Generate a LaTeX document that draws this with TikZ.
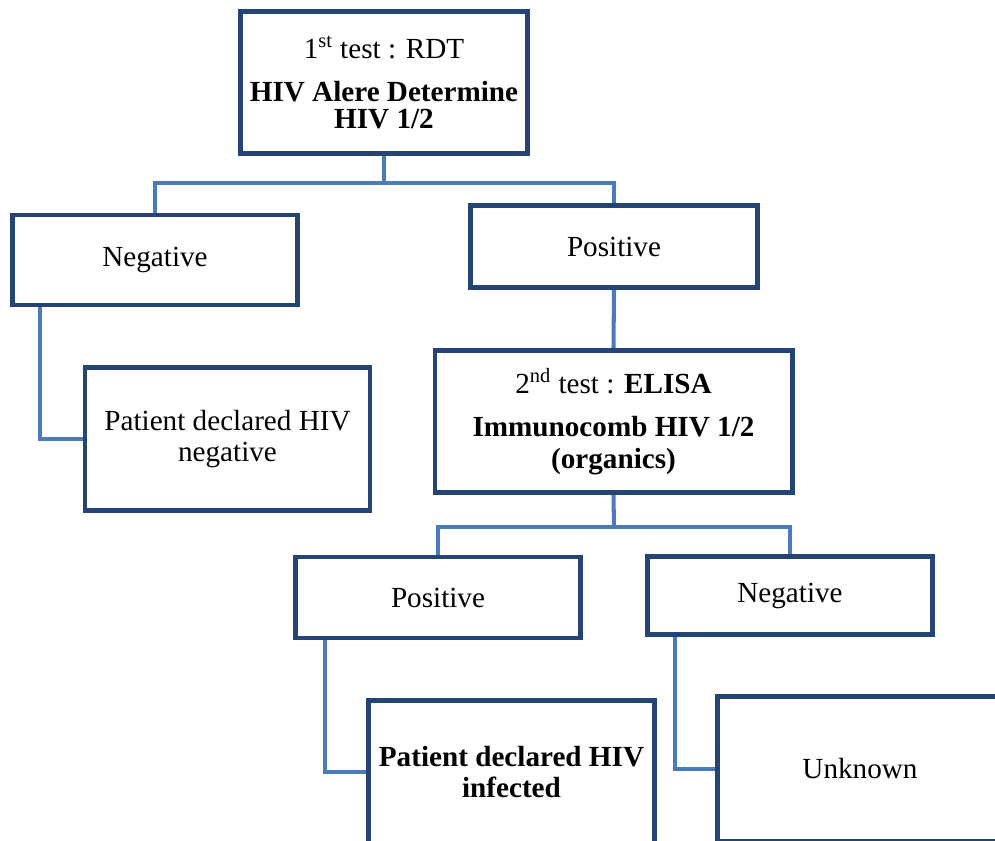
\documentclass[tikz,border=0pt]{standalone}
\usepackage{fontspec}
\setmainfont{Liberation Serif}
\usetikzlibrary{calc, positioning}

\definecolor{boxblue}{RGB}{36,68,118}
\definecolor{linkblue}{RGB}{74,124,186}

\begin{document}
\begin{tikzpicture}[x=0.02cm, y=-0.02cm,
    box/.style={draw=boxblue, line width=2.6pt, fill=white, align=center,
      inner sep=2pt, font=\fontsize{16.6}{17.5}\selectfont},
    link/.style={draw=linkblue, line width=2.3pt}]
  % page frame, lower boxes run off the edge
  \useasboundingbox (0,0) rectangle (995,840);
  \clip (0,0) rectangle (995,840);
  % first test
  \node[box, minimum width=5.75cm, minimum height=2.85cm] (test1) at (384,82.5)
    {1\textsuperscript{st} test : RDT\\[6.9pt]\textbf{HIV Alere Determine}\\[-2.2pt]\textbf{HIV 1/2}};
  \node[box, minimum width=5.7cm, minimum height=1.8cm] (neg1) at (155,260) {Negative};
  \node[box, minimum width=5.75cm, minimum height=1.65cm] (pos1) at (614,246.5) {Positive};
  \node[box, minimum width=5.7cm, minimum height=2.85cm] (declneg) at (227.5,439)
    {Patient declared HIV\\negative};
  % second test
  \node[box, minimum width=7.15cm, minimum height=2.85cm] (test2) at (613.5,421.5)
    {2\textsuperscript{nd} test : \textbf{ELISA}\\[6.9pt]\textbf{Immunocomb HIV 1/2}\\[0.6pt]\textbf{(organics)}};
  \node[box, minimum width=5.7cm, minimum height=1.62cm] (pos2) at (438,597.5) {Positive};
  \node[box, minimum width=5.7cm, minimum height=1.55cm] (neg2) at (790,595.5) {Negative};
  \node[box, minimum width=5.72cm, minimum height=2.85cm] (infected) at (511.5,772)
    {\textbf{Patient declared HIV}\\\textbf{infected}};
  \node[box, minimum width=5.7cm, minimum height=2.9cm] (unknown) at (860,769) {Unknown};
  % split points
  \coordinate (split1) at (384,183);
  \coordinate (split2) at (614,527);
  % connectors
  \draw[link] (test1.south) -- (split1);
  \draw[link] (neg1.north) |- (split1) -| (pos1.north);
  \draw[link] ([xshift=0.6cm]neg1.south west) |- (declneg.west);
  \draw[link] (pos1.south) -- (test2.north);
  \draw[link] (test2.south) -- (split2);
  \draw[link] (pos2.north) |- (split2) -| (neg2.north);
  \draw[link] ([xshift=0.64cm]pos2.south west) |- (infected.west);
  \draw[link] ([xshift=0.6cm]neg2.south west) |- (unknown.west);
\end{tikzpicture}
\end{document}
